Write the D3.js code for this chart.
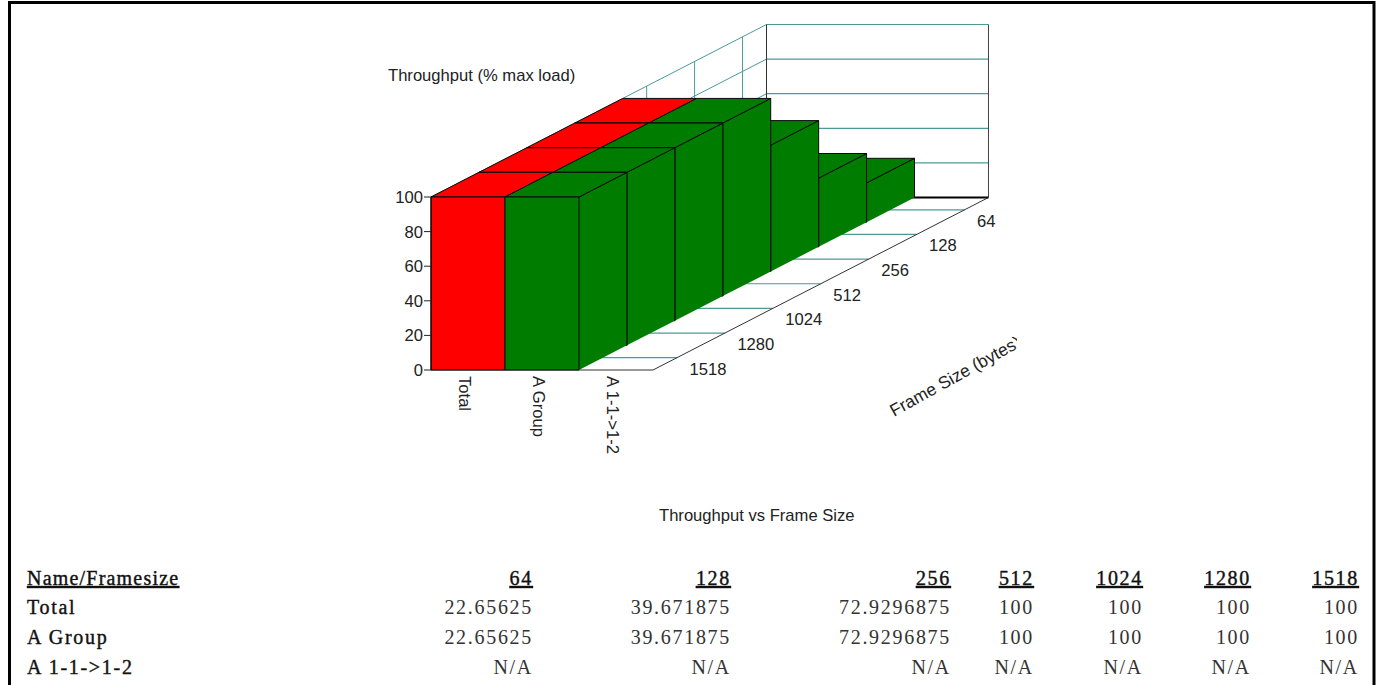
<!DOCTYPE html>
<html>
<head>
<meta charset="utf-8">
<script src="https://cdn.jsdelivr.net/npm/d3@7"></script>
<style>
  html, body { margin: 0; padding: 0; background: #fff; overflow: hidden; }
  svg { display: block; }
  .chart-text { font-family: "Liberation Sans", Arial, sans-serif; font-size: 16.6px; fill: #222; }
  .table-text { font-family: "Liberation Serif", serif; font-size: 20px; letter-spacing: 1.7px; fill: #111; }
  .table-head { stroke: #111; stroke-width: 0.4px; }
  .table-num { fill: #333; }
</style>
</head>
<body>
<svg width="1382" height="685"></svg>
<script>
// depth axis runs front to back
const frameSizes = [1518, 1280, 1024, 512, 256, 128, 64];
const seriesNames = ['Total', 'A Group', 'A 1-1->1-2'];
const seriesColors = ['#ff0000', '#007d00', '#007d00'];
const totalValues = [100, 100, 100, 100, 72.9296875, 39.671875, 22.65625];
const groupValues = [100, 100, 100, 100, 72.9296875, 39.671875, 22.65625];
const portValues = [null, null, null, null, null, null, null];
const seriesValues = [totalValues, groupValues, portValues];
const yTicks = [0, 20, 40, 60, 80, 100];

const tableHeader = ['64', '128', '256', '512', '1024', '1280', '1518'];
const tableTotal = ['22.65625', '39.671875', '72.9296875', '100', '100', '100', '100'];
const tableGroup = ['22.65625', '39.671875', '72.9296875', '100', '100', '100', '100'];
const tablePort = ['N/A', 'N/A', 'N/A', 'N/A', 'N/A', 'N/A', 'N/A'];

const svg = d3.select('svg');
const teal = '#4a9a9a';

// page frame, open at the bottom
svg.append('path').attr('d', 'M9.5,685V2.5H1374V685').attr('fill', 'none').attr('stroke', '#000').attr('stroke-width', 3);

// scales: x across series, y up, depth gives the oblique offset
const x = d3.scaleLinear().domain([0, 3]).range([431, 653]);
const y = d3.scaleLinear().domain([0, 100]).range([370, 197]);
const depthX = d3.scaleLinear().domain([0, 7]).range([0, 335.5]);
const depthY = d3.scaleLinear().domain([0, 7]).range([0, -172.5]);

// project series position s, depth d, value v to pixels
const pt = (s, d, v) => [x(s) + depthX(d), y(v) + depthY(d)];
const poly = (pts) => 'M' + pts.map(p => p.join(',')).join('L') + 'Z';
const line = (a, b) => 'M' + a.join(',') + 'L' + b.join(',');

const walls = svg.append('g').attr('fill', 'none');

// back wall and left wall grid
yTicks.filter(t => t > 0).forEach(t => {
  walls.append('path').attr('d', line(pt(0, 7, t), pt(3, 7, t))).attr('stroke', teal).attr('stroke-width', 1.2);
  walls.append('path').attr('d', line(pt(0, 0, t), pt(0, 7, t))).attr('stroke', teal);
});
// depth grid sits at the middle of each frame size
frameSizes.forEach((f, d) => {
  walls.append('path').attr('d', line(pt(0, d + 0.5, 0), pt(0, d + 0.5, 100))).attr('stroke', teal);
  walls.append('path').attr('d', line(pt(0, d + 0.5, 0), pt(3, d + 0.5, 0))).attr('stroke', teal).attr('stroke-width', 1.2);
});

// wall edges
walls.append('path').attr('d', line(pt(0, 7, 0), pt(0, 7, 100))).attr('stroke', '#333');
walls.append('path').attr('d', line(pt(3, 7, 0), pt(3, 7, 100))).attr('stroke', '#444');
walls.append('path').attr('d', line(pt(0, 7, 0), pt(3, 7, 0))).attr('stroke', '#000').attr('stroke-width', 2);
walls.append('path').attr('d', line(pt(3, 0, 0), pt(3, 7, 0))).attr('stroke', '#333');
walls.append('path').attr('d', line(pt(0, 0, 0), pt(3, 0, 0))).attr('stroke', '#333');

// bars, painted back to front and left to right
const bars = svg.append('g').attr('stroke-linejoin', 'round');
d3.range(6, -1, -1).forEach(d => {
  seriesValues.forEach((values, s) => {
    const v = values[d];
    if (v === null) return;
    const fill = seriesColors[s];
    // right side has no outline along the floor
    bars.append('path').attr('fill', fill).attr('stroke', 'none')
      .attr('d', poly([pt(s + 1, d, 0), pt(s + 1, d + 1, 0), pt(s + 1, d + 1, v), pt(s + 1, d, v)]));
    bars.append('path').attr('fill', 'none').attr('stroke', '#0a0a0a')
      .attr('d', line(pt(s + 1, d + 1, 0), pt(s + 1, d + 1, v)) + 'L' + pt(s + 1, d, v).join(','));
    // top
    bars.append('path').attr('fill', fill).attr('stroke', '#0a0a0a')
      .attr('d', poly([pt(s, d, v), pt(s + 1, d, v), pt(s + 1, d + 1, v), pt(s, d + 1, v)]));
    // front
    bars.append('path').attr('fill', fill).attr('stroke', '#0a0a0a')
      .attr('d', poly([pt(s, d, 0), pt(s + 1, d, 0), pt(s + 1, d, v), pt(s, d, v)]));
  });
});

// value axis
const yAxis = svg.append('g');
yAxis.append('path').attr('d', line([431, y(0)], [431, y(100)])).attr('stroke', '#000');
yTicks.forEach(t => {
  yAxis.append('path').attr('d', line([424, y(t)], [431, y(t)])).attr('stroke', '#222');
  yAxis.append('text').attr('class', 'chart-text')
    .attr('x', 423).attr('y', y(t) + 6).attr('text-anchor', 'end')
    .text(t);
});

// series labels, rotated
seriesNames.forEach((name, s) => {
  svg.append('text').attr('class', 'chart-text')
    .attr('transform', `translate(${x(s + 0.5) - 9},376) rotate(90)`)
    .text(name);
});

// frame size labels along the right floor edge
frameSizes.forEach((f, d) => {
  const p = pt(3, d + 0.5, 0);
  svg.append('text').attr('class', 'chart-text')
    .attr('x', p[0] + 12.5).attr('y', p[1] + 17)
    .text(f);
});

svg.append('text').attr('class', 'chart-text').attr('x', 388).attr('y', 81).text('Throughput (% max load)');
svg.append('text').attr('class', 'chart-text').attr('x', 659).attr('y', 521).text('Throughput vs Frame Size');

// the closing bracket is cut off in the original
svg.append('clipPath').attr('id', 'clip-frame').append('rect').attr('x', 880).attr('y', 330).attr('width', 137).attr('height', 100);
svg.append('g').attr('clip-path', 'url(#clip-frame)').append('text').attr('class', 'chart-text')
  .attr('font-size', 17.4).style('font-size', '17.4px')
  .attr('transform', 'translate(894,417) rotate(-29)')
  .text('Frame Size (bytes)');

// table
const colRight = [533, 731, 951, 1034, 1143, 1251, 1359];
const rows = [
  { name: 'Total', cells: tableTotal, y: 614 },
  { name: 'A Group', cells: tableGroup, y: 644 },
  { name: 'A 1-1->1-2', cells: tablePort, y: 674 },
];
svg.append('text').attr('class', 'table-text table-head').attr('x', 27).attr('y', 585)
  .attr('text-decoration', 'underline').style('letter-spacing', '1.2px').text('Name/Framesize');
tableHeader.forEach((h, i) => {
  svg.append('text').attr('class', 'table-text table-head').attr('x', colRight[i]).attr('y', 585)
    .attr('text-anchor', 'end').attr('text-decoration', 'underline').text(h);
});
rows.forEach(r => {
  svg.append('text').attr('class', 'table-text table-head').attr('x', 27).attr('y', r.y).text(r.name);
  r.cells.forEach((c, i) => {
    svg.append('text').attr('class', 'table-text table-num').attr('x', colRight[i]).attr('y', r.y)
      .attr('text-anchor', 'end').text(c);
  });
});
</script>
</body>
</html>
